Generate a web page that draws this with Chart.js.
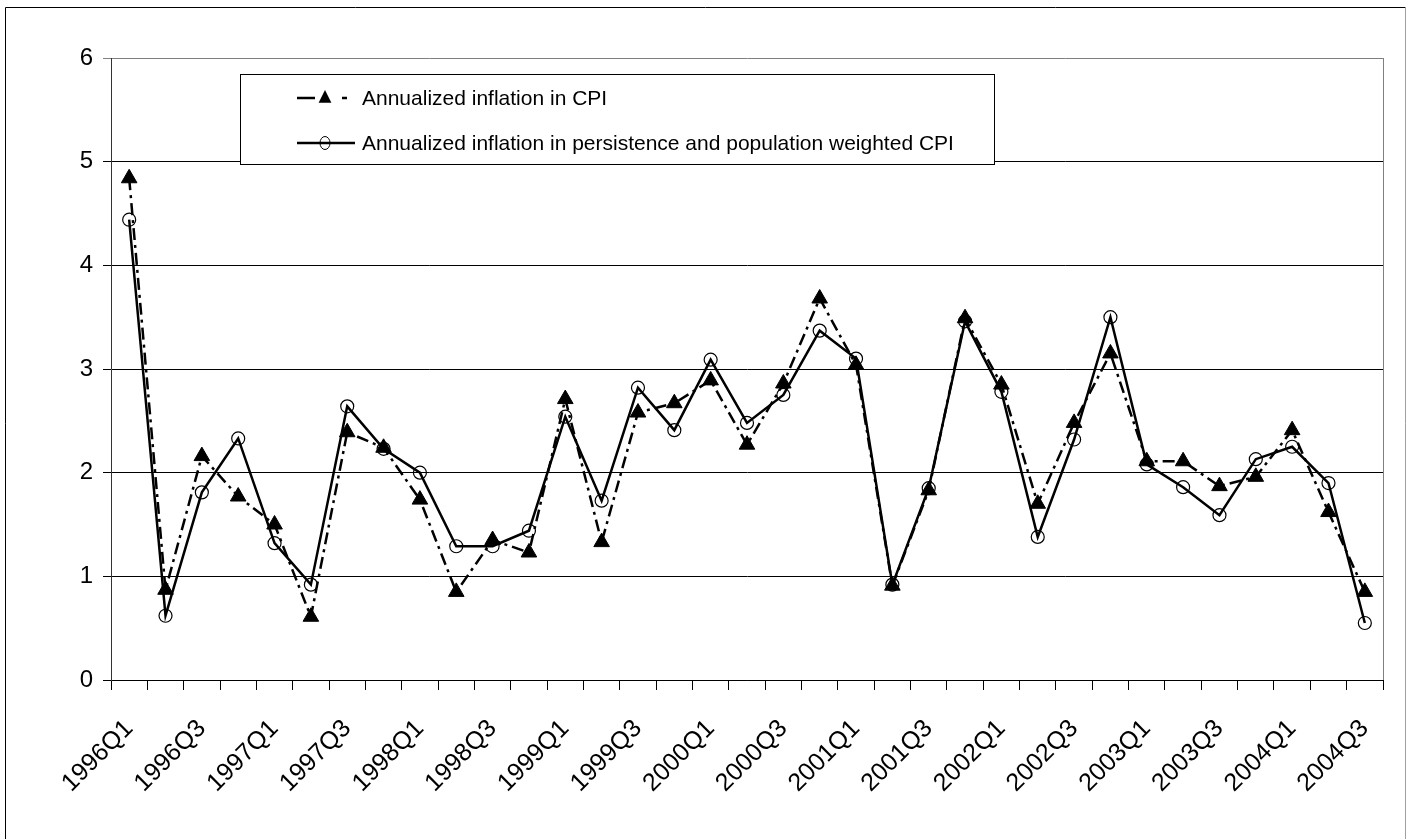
<!DOCTYPE html>
<html>
<head>
<meta charset="utf-8">
<script src="https://cdn.jsdelivr.net/npm/chart.js@4.4.1/dist/chart.umd.min.js"></script>
<style>
  html, body { margin: 0; padding: 0; background: #fff; }
  canvas { display: block; }
</style>
</head>
<body>
<canvas id="grafico" width="1407" height="839"></canvas>
<script>
const trimestres = [
  "1996Q1", "1996Q2", "1996Q3", "1996Q4",
  "1997Q1", "1997Q2", "1997Q3", "1997Q4",
  "1998Q1", "1998Q2", "1998Q3", "1998Q4",
  "1999Q1", "1999Q2", "1999Q3", "1999Q4",
  "2000Q1", "2000Q2", "2000Q3", "2000Q4",
  "2001Q1", "2001Q2", "2001Q3", "2001Q4",
  "2002Q1", "2002Q2", "2002Q3", "2002Q4",
  "2003Q1", "2003Q2", "2003Q3", "2003Q4",
  "2004Q1", "2004Q2", "2004Q3"
];

// Annualized inflation in CPI
const inflacaoCPI = [
  4.84, 0.87, 2.16, 1.77, 1.50, 0.61, 2.39, 2.24, 1.74, 0.85,
  1.35, 1.23, 2.71, 1.33, 2.58, 2.67, 2.89, 2.27, 2.86, 3.68,
  3.04, 0.91, 1.83, 3.49, 2.85, 1.70, 2.48, 3.15, 2.11, 2.11,
  1.87, 1.96, 2.41, 1.62, 0.85
];

// Annualized inflation in persistence and population weighted CPI
const inflacaoPonderada = [
  4.44, 0.62, 1.81, 2.33, 1.32, 0.92, 2.64, 2.23, 2.00, 1.29,
  1.29, 1.44, 2.54, 1.73, 2.82, 2.41, 3.09, 2.48, 2.75, 3.37,
  3.10, 0.92, 1.85, 3.46, 2.78, 1.38, 2.32, 3.50, 2.08, 1.86,
  1.59, 2.13, 2.25, 1.90, 0.55
];

const yTicks = [0, 1, 2, 3, 4, 5, 6];

const fonte = "'Liberation Sans', Arial, sans-serif";

// Moldura externa, borda da área do gráfico e legenda dentro do gráfico
const moldura = {
  id: 'moldura',
  afterDraw(chart) {
    const { ctx, chartArea: a } = chart;
    ctx.save();
    ctx.lineWidth = 1;

    // borda direita da área de plotagem
    ctx.strokeStyle = '#808080';
    ctx.beginPath();
    ctx.moveTo(a.right + 0.5, a.top);
    ctx.lineTo(a.right + 0.5, a.bottom);
    ctx.stroke();

    // moldura externa
    ctx.strokeStyle = '#000';
    ctx.beginPath();
    ctx.moveTo(5.5, 845);
    ctx.lineTo(5.5, 7.5);
    ctx.lineTo(1405.5, 7.5);
    ctx.stroke();
    ctx.strokeStyle = '#a0a0a0';
    ctx.beginPath();
    ctx.moveTo(1405.5, 7.5);
    ctx.lineTo(1405.5, 845);
    ctx.stroke();

    // legenda
    ctx.fillStyle = '#fff';
    ctx.fillRect(240, 74, 754, 90);
    ctx.strokeStyle = '#000';
    ctx.strokeRect(240.5, 74.5, 754, 90);

    const linhas = [98, 143];
    const bases = [105, 150];
    chart.data.datasets.forEach((ds, i) => {
      const y = linhas[i];
      const cx = 325;
      ctx.strokeStyle = '#000';
      ctx.lineWidth = ds.borderWidth;
      if (ds.borderDash) {
        // traço longo, marcador, traço curto
        ctx.beginPath();
        ctx.moveTo(297, y);
        ctx.lineTo(315, y);
        ctx.moveTo(342, y);
        ctx.lineTo(347, y);
        ctx.stroke();
      } else {
        ctx.beginPath();
        ctx.moveTo(297, y);
        ctx.lineTo(355, y);
        ctx.stroke();
      }

      ctx.lineWidth = 1;
      if (ds.pointStyle === 'triangle') {
        const r = 8;
        ctx.fillStyle = '#000';
        ctx.beginPath();
        ctx.moveTo(cx, y - r);
        ctx.lineTo(cx + r * 0.8, y + r * 0.6);
        ctx.lineTo(cx - r * 0.8, y + r * 0.6);
        ctx.closePath();
        ctx.fill();
      } else {
        ctx.strokeStyle = '#000';
        ctx.beginPath();
        ctx.ellipse(cx, y, 5, 6.5, 0, 0, Math.PI * 2);
        ctx.stroke();
      }

      ctx.fillStyle = '#000';
      ctx.font = '21px ' + fonte;
      ctx.textBaseline = 'alphabetic';
      ctx.textAlign = 'left';
      ctx.fillText(ds.label, 362, bases[i]);
    });
    ctx.restore();
  }
};

const ctx = document.getElementById('grafico').getContext('2d');
new Chart(ctx, {
  type: 'line',
  data: {
    labels: trimestres,
    datasets: [
      {
        label: 'Annualized inflation in CPI',
        data: inflacaoCPI,
        borderColor: '#000',
        borderWidth: 2.5,
        borderDash: [12, 5, 3, 5],
        pointStyle: 'triangle',
        pointRadius: 9,
        pointBackgroundColor: '#000',
        pointBorderColor: '#000',
        pointBorderWidth: 1,
        tension: 0,
        fill: false
      },
      {
        label: 'Annualized inflation in persistence and population weighted CPI',
        data: inflacaoPonderada,
        borderColor: '#000',
        borderWidth: 2.5,
        pointStyle: 'circle',
        pointRadius: 6.5,
        pointBackgroundColor: 'rgba(255,255,255,0)',
        pointBorderColor: '#000',
        pointBorderWidth: 1.2,
        tension: 0,
        fill: false
      }
    ]
  },
  options: {
    responsive: false,
    animation: false,
    devicePixelRatio: 1,
    layout: { padding: { top: 58, right: 24, left: 0, bottom: 0 } },
    plugins: {
      legend: { display: false },
      tooltip: { enabled: false }
    },
    scales: {
      x: {
        offset: true,
        grid: {
          offset: true,
          drawOnChartArea: false,
          drawTicks: true,
          tickLength: 10,
          color: '#000'
        },
        border: { color: '#000', width: 1 },
        ticks: {
          autoSkip: false,
          maxRotation: 45,
          minRotation: 45,
          padding: 24,
          color: '#000',
          font: { family: fonte, size: 25 },
          callback: (v, i) => (i % 2 === 0 ? trimestres[i] : '')
        },
        afterFit(s) {
          s.height = 159;
          s.paddingRight = 0;
          s.paddingLeft = 0;
        }
      },
      y: {
        min: yTicks[0],
        max: yTicks[yTicks.length - 1],
        afterBuildTicks(s) { s.ticks = yTicks.map(v => ({ value: v })); },
        ticks: {
          color: '#000',
          padding: 10,
          font: { family: fonte, size: 24 }
        },
        grid: {
          color: c => (c.tick && c.tick.value === 6 ? '#808080' : '#000'),
          tickLength: 8
        },
        border: { color: '#333' },
        afterFit(s) { s.width = 111; }
      }
    }
  },
  plugins: [moldura]
});
</script>
</body>
</html>
